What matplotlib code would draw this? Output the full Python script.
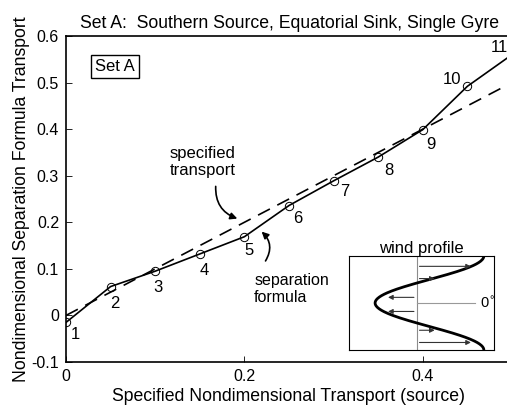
import numpy as np
import matplotlib
matplotlib.use("Agg")
import matplotlib.pyplot as plt

plt.rcParams["font.family"] = ["Liberation Sans", "DejaVu Sans"]
plt.rcParams["font.size"] = 11

# ------------ data ------------
specified = [0.0, 0.05, 0.10, 0.15, 0.20, 0.25, 0.30, 0.35, 0.40, 0.45, 0.50]
separation = [-0.015, 0.062, 0.095, 0.132, 0.169, 0.236, 0.289, 0.340, 0.399, 0.492, 0.560]
point_labels = ["1", "2", "3", "4", "5", "6", "7", "8", "9", "10", "11"]
# label offsets in points (dx, dy)
label_offsets = [(7, -9), (3, -12), (2, -12), (3, -12), (3, -10), (6, -9), (8, -8),
                 (8, -10), (6, -11), (-11, 5), (-9, 5)]

ref_x = [0.0, 0.5]
ref_y = [0.0, 0.5]

# wind profile inset: arrows (height fraction, arrow tip x)
zero_x = 0.467
arrow_h = [0.89, 0.76, 0.56, 0.41, 0.21, 0.08]
arrow_tip = [0.86, 0.61, 0.25, 0.25, 0.61, 0.86]
# ---------------------------------------------------

fig = plt.figure(figsize=(5.07, 4.08), dpi=100)
ax = fig.add_axes([66 / 507, 46 / 408, 446 / 507, 326 / 408])

ax.plot(ref_x, ref_y, color="black", linestyle=(0, (8, 5)), linewidth=1.2)
ax.plot(specified, separation, color="black", linewidth=1.2, marker="o",
        markersize=6, markerfacecolor="none", markeredgewidth=0.7)

for x, y, lab, off in zip(specified, separation, point_labels, label_offsets):
    ax.annotate(lab, (x, y), xytext=off, textcoords="offset points",
                ha="center", va="center", fontsize=12)

ax.set_xlim(0, 0.5)
ax.set_ylim(-0.1, 0.6)
ax.set_xticks([0, 0.2, 0.4])
ax.set_xticklabels(["0", "0.2", "0.4"])
ax.set_yticks([-0.1, 0, 0.1, 0.2, 0.3, 0.4, 0.5, 0.6])
ax.set_yticklabels(["-0.1", "0", "0.1", "0.2", "0.3", "0.4", "0.5", "0.6"])
ax.tick_params(direction="in", length=4, width=0.6, labelsize=11.5, pad=5)
for s in ax.spines.values():
    s.set_linewidth(1.2)

ax.set_xlabel("Specified Nondimensional Transport (source)", fontsize=12.7, labelpad=3)
ax.set_ylabel("Nondimensional Separation Formula Transport", fontsize=12.7, labelpad=1)
ax.set_title("Set A:  Southern Source, Equatorial Sink, Single Gyre", fontsize=12.7, pad=6)

ax.text(0.055, 0.535, "Set A", fontsize=12, ha="center", va="center",
        bbox=dict(boxstyle="square,pad=0.25", facecolor="white", edgecolor="black", linewidth=1))

ax.text(0.153, 0.329, "specified\ntransport", ha="center", va="center",
        fontsize=12, linespacing=1.2)
ax.annotate("", xy=(0.195, 0.206), xytext=(0.168, 0.283),
            arrowprops=dict(arrowstyle="-|>", color="black", lw=1.2,
                            connectionstyle="arc3,rad=0.4", mutation_scale=10))

ax.text(0.211, 0.057, "separation\nformula", ha="left", va="center",
        fontsize=11.5, linespacing=1.15)
ax.annotate("", xy=(0.217, 0.184), xytext=(0.222, 0.112),
            arrowprops=dict(arrowstyle="-|>", color="black", lw=1.2,
                            connectionstyle="arc3,rad=0.45", mutation_scale=10))

# inset: wind profile
ins = fig.add_axes([349 / 507, 58 / 408, 145 / 507, 94 / 408])
ins.set_xlim(0, 1)
ins.set_ylim(0, 1)
ins.set_xticks([])
ins.set_yticks([])
for s in ins.spines.values():
    s.set_linewidth(0.8)
t = np.linspace(0, 1, 200)
ins.axvline(zero_x, color="0.55", linewidth=0.8)
ins.plot([zero_x, 0.87], [0.5, 0.5], color="0.6", linewidth=0.8)
ins.plot(0.555 + 0.375 * np.cos(2 * np.pi * t), t, color="black", linewidth=2)
for h, tip in zip(arrow_h, arrow_tip):
    ins.annotate("", xy=(tip, h), xytext=(zero_x, h),
                 arrowprops=dict(arrowstyle="-|>", color="0.2", lw=0.8, mutation_scale=7))
ins.text(0.9, 0.5, "0$^{\\circ}$", ha="left", va="center", fontsize=10.5)
ins.set_title("wind profile", fontsize=12, pad=2)

fig.savefig("out.png", dpi=100)
